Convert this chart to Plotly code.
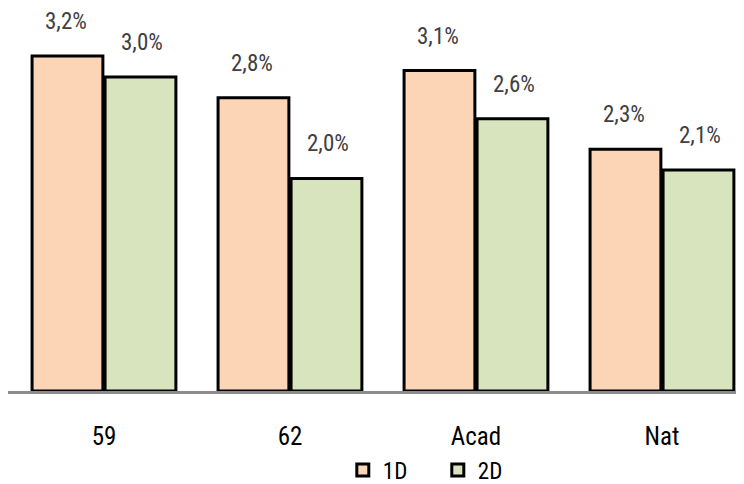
import plotly.graph_objects as go

categories = ["59", "62", "Acad", "Nat"]
series_names = ["1D", "2D"]
values_1d = [3.20, 2.80, 3.06, 2.31]
values_2d = [3.00, 2.03, 2.60, 2.11]

colors = {"1D": "#FBD5B5", "2D": "#D7E4BD"}
FONT = "Liberation Sans Narrow, Roboto Condensed, Open Sans, sans-serif"


def pct_label(v):
    return f"{v:.1f}%".replace(".", ",")


fig = go.Figure()
for name, vals in zip(series_names, [values_1d, values_2d]):
    fig.add_trace(
        go.Bar(
            x=categories,
            y=vals,
            name=name,
            marker=dict(color=colors[name], line=dict(color="black", width=3)),
        )
    )

# value labels sit well above the bar tops (x by category index, "59" would be read as an index)
for i, cat in enumerate(categories):
    for vals, shift in [(values_1d, -38), (values_2d, 38)]:
        fig.add_annotation(
            x=i, y=vals[i], text=pct_label(vals[i]),
            showarrow=False, xshift=shift, yshift=19, yanchor="bottom",
            font=dict(family=FONT, size=23, color="#404040"),
        )

fig.update_layout(
    width=744, height=484,
    margin=dict(l=0, r=0, t=0, b=101, autoexpand=False),
    plot_bgcolor="white", paper_bgcolor="white",
    barmode="group", bargap=0.215, bargroupgap=0.03,
    showlegend=True,
    legend=dict(
        orientation="h", x=0.450, xanchor="left", y=-0.15, yanchor="top",
        font=dict(family=FONT, size=23, color="black"),
        itemwidth=30, entrywidth=50, traceorder="normal",
    ),
    font=dict(family=FONT),
)
fig.update_xaxes(
    type="category",
    range=[-0.516, 3.484],
    showline=True, linecolor="#8c8c8c", linewidth=3,
    ticks="outside", ticklen=21, tickcolor="rgba(0,0,0,0)",
    tickfont=dict(family=FONT, size=25, color="black"),
    showgrid=False,
)
fig.update_yaxes(range=[0, 3.658], visible=False, showgrid=False)

fig.write_html("out.html")
